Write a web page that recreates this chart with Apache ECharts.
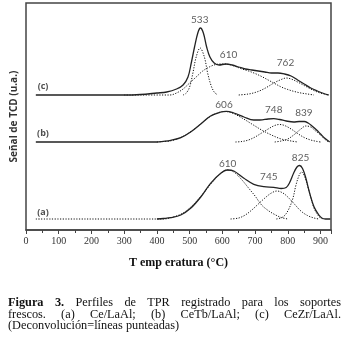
<!DOCTYPE html>
<html>
<head>
<meta charset="utf-8">
<script src="https://cdn.jsdelivr.net/npm/echarts@6/dist/echarts.min.js"></script>
<style>
body { margin: 0; background: #fff; }
#wrap { position: relative; width: 345px; height: 346px; }
#chart { position: absolute; left: 0; top: 0; width: 345px; height: 346px; }
#caption { position: absolute; left: 8px; top: 297px; width: 333px;
	font-family: "Liberation Serif", serif; font-size: 12.3px; line-height: 11.5px; color: #111; }
#caption .j { text-align: justify; text-align-last: justify; }
</style>
</head>
<body>
<div id="wrap">
	<div id="chart"></div>
	<div id="caption">
		<div class="j"><b>Figura 3.</b> Perfiles de TPR registrado para los soportes</div>
		<div class="j">frescos. (a) Ce/LaAl; (b) CeTb/LaAl; (c) CeZr/LaAl.</div>
		<div>(Deconvolución=líneas punteadas)</div>
	</div>
</div>
<script>
// eje X (°C)
var xTicks = [0, 100, 200, 300, 400, 500, 600, 700, 800, 900];

// desplazamiento vertical de cada perfil (u.a.)
var curveOffset = { a: 11, b: 88, c: 135 };

// (c) CeZr/LaAl
var totalC = [[30,0],[300,0],[350,0.5],[400,2],[430,3],[460,6],[480,10],[495,18],[505,32],[515,48],[525,62],[533,67],[542,62],[552,48],[562,38],[575,32],[590,30],[610,31],[630,30],[650,28],[670,26],[690,25],[710,24],[730,23],[750,22],[770,22],[790,21],[810,19],[830,15],[850,11],[870,7],[890,4],[910,1.5],[925,0]];
var c533 = [[480,0],[490,2],[500,8],[510,22],[520,38],[532,47],[545,38],[555,22],[565,10],[575,3],[586,0]];
var c610 = [[300,0],[440,0],[460,2],[480,6],[500,12],[520,18],[540,24],[560,28],[580,30.5],[600,31],[620,30.5],[640,28.5],[660,26],[680,24],[700,21.5],[720,18.5],[740,15],[760,11.5],[780,8],[800,5.5],[820,3.5],[840,2],[860,1],[880,0]];
var c762 = [[650,0],[680,1],[700,2.5],[720,5],[740,8.5],[760,12.5],[780,15.5],[795,17],[810,16],[830,13],[850,9.5],[870,6],[890,3],[910,1],[925,0]];

// (b) CeTb/LaAl
var totalB = [[30,0],[400,0],[420,0.7],[442,1.7],[473,4.3],[503,10],[534,18],[564,26],[595,30],[612,30.7],[635,29],[666,25],[696,22],[715,22],[740,23],[757,23.3],[775,22.5],[795,21],[818,20],[835,20.5],[850,20.5],[862,19],[874,16],[888,12],[900,8],[912,4],[920,2],[928,0]];
var b606 = [[400,0],[420,0.5],[440,1],[470,4],[500,9.5],[530,17],[560,25],[590,29.5],[610,30.5],[630,29],[660,24],[690,18],[720,12],[750,7],[780,3],[810,1],[830,0]];
var b748 = [[640,0],[660,0.5],[680,2],[700,5],[720,9],[740,13],[760,16.5],[775,17.5],[790,16.5],[810,13],[830,8.5],[850,4.5],[870,2],[890,0.5],[900,0]];
var b839 = [[760,0],[780,1],[800,3],[820,7.5],[840,13],[855,16],[870,15],[885,11],[900,7],[912,3],[925,0]];

// (a) Ce/LaAl
var totalA = [[400,0],[420,0.5],[442,1.3],[473,4],[503,10.7],[534,22],[564,35.7],[595,45.7],[615,49],[635,48],[666,40.7],[696,34.7],[727,32.3],[757,31.7],[780,30.5],[795,31.5],[805,36],[818,46],[828,52],[836,53.5],[845,50.5],[855,41],[865,28],[880,12.3],[895,4],[905,0.7],[915,0],[930,0]];
var a610 = [[30,0],[420,0],[450,2],[480,6],[510,14],[540,25],[570,37],[595,45.5],[615,49],[635,47],[660,39],[680,31],[700,23],[720,14],[740,8.5],[760,4.5],[780,1.5],[800,0]];
var a745 = [[625,0],[650,1],[670,4],[690,9],[710,15],[730,21],[750,26],[767,28],[785,26],[800,22],[820,15],[840,8],[860,3.5],[880,1],[895,0]];
var a825 = [[765,0],[785,2],[800,8],[815,20],[825,34],[835,44],[842,47],[852,42],[865,28],[880,11],[895,2.5],[905,0]];

// etiquetas de picos: [T, altura sobre la línea base, texto]
var peakTagsC = [[531,75.5,'533'],[619,40,'610'],[793,32,'762']];
var peakTagsB = [[605,37,'606'],[757,32,'748'],[849,29,'839']];
var peakTagsA = [[616,55,'610'],[742,42,'745'],[839,61,'825']];
var curveTags = [['c',52,9,'(c)'],['b',52,9,'(b)'],['a',52,7,'(a)']];

function shift(arr, key) {
	return arr.map(function (p) { return [p[0], p[1] + curveOffset[key]]; });
}
function solid(arr, key) {
	return { type: 'line', data: shift(arr, key), smooth: 0.35, symbol: 'none',
		lineStyle: { color: '#222', width: 1.3 }, z: 3 };
}
function dotted(arr, key) {
	return { type: 'line', data: shift(arr, key), smooth: 0.35, symbol: 'none',
		lineStyle: { color: '#111', width: 1, type: [1.2, 1.5] }, z: 2 };
}
function tags(arr, key) {
	return { type: 'scatter', symbolSize: 0, silent: true, z: 5,
		data: arr.map(function (t) { return { value: [t[0], t[1] + curveOffset[key]], name: t[2] }; }),
		label: { show: true, position: 'inside', formatter: '{b}', color: '#333',
			fontFamily: 'Lato', fontSize: 10 } };
}

var myChart = echarts.init(document.getElementById('chart'));

myChart.setOption({
	animation: false,
	grid: { left: 26, right: 14, top: 3, bottom: 116, show: true,
		borderColor: '#444', borderWidth: 1.5 },
	xAxis: {
		type: 'value', min: 0, max: 932, interval: 100,
		name: 'T emp eratura (°C)', nameLocation: 'middle', nameGap: 27,
		nameTextStyle: { fontFamily: 'Liberation Serif', fontWeight: 'bold', fontSize: 12, color: '#111' },
		axisLine: { lineStyle: { color: '#444', width: 1.5 } },
		axisTick: { length: 4, lineStyle: { color: '#444' } },
		minorTick: { show: true, splitNumber: 2, length: 3, lineStyle: { color: '#444' } },
		splitLine: { show: false },
		axisLabel: { margin: 6, fontFamily: 'Liberation Serif', fontSize: 10, color: '#333',
			formatter: function (v) { return xTicks.indexOf(v) >= 0 ? String(v) : ''; } }
	},
	yAxis: {
		type: 'value', min: 0, max: 227,
		name: 'Señal de TCD (u.a.)', nameLocation: 'middle', nameGap: 7, nameRotate: 90,
		nameTextStyle: { fontFamily: 'Open Sans', fontWeight: 'bold', fontSize: 10, color: '#333' },
		axisLine: { show: false }, axisTick: { show: false },
		axisLabel: { show: false }, splitLine: { show: false }
	},
	series: [
		solid(totalC, 'c'), dotted(c533, 'c'), dotted(c610, 'c'), dotted(c762, 'c'),
		solid(totalB, 'b'), dotted(b606, 'b'), dotted(b748, 'b'), dotted(b839, 'b'),
		solid(totalA, 'a'), dotted(a610, 'a'), dotted(a745, 'a'), dotted(a825, 'a'),
		tags(peakTagsC, 'c'), tags(peakTagsB, 'b'), tags(peakTagsA, 'a'),
		{ type: 'scatter', symbolSize: 0, silent: true, z: 5,
			data: curveTags.map(function (t) { return { value: [t[1], t[2] + curveOffset[t[0]]], name: t[3] }; }),
			label: { show: true, position: 'inside', formatter: '{b}', color: '#222',
				fontFamily: 'Open Sans', fontWeight: 'bold', fontSize: 9 } }
	]
});
window.onresize = function () {
	myChart.resize();
};
</script>
</body>
</html>
